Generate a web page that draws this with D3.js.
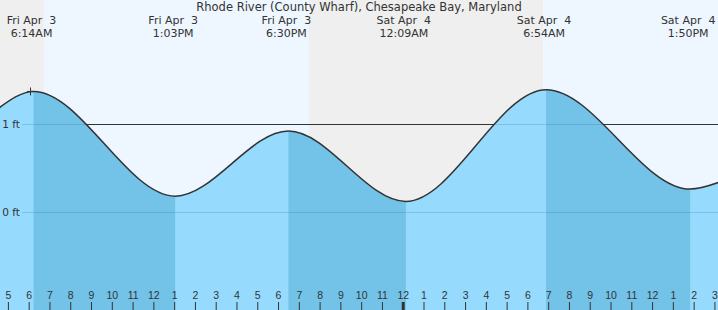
<!DOCTYPE html>
<html>
<head>
<meta charset="utf-8">
<script src="https://cdn.jsdelivr.net/npm/d3@7"></script>
<style>
  body { margin: 0; background: #fff; }
  svg { display: block; font-family: 'DejaVu Sans', sans-serif; }
  text { fill: #333; white-space: pre; }
</style>
</head>
<body>
<svg id="chart"></svg>
<script>
let width = 718
let height = 310

let title = 'Rhode River (County Wharf), Chesapeake Bay, Maryland'

// tide extremes (UTC used as local clock), feet
let tideTimes = [
  Date.UTC(2026, 3, 3, 4, 30),
  Date.UTC(2026, 3, 3, 6, 14),
  Date.UTC(2026, 3, 3, 13, 3),
  Date.UTC(2026, 3, 3, 18, 30),
  Date.UTC(2026, 3, 4, 0, 9),
  Date.UTC(2026, 3, 4, 6, 54),
  Date.UTC(2026, 3, 4, 13, 50),
  Date.UTC(2026, 3, 4, 15, 15)
]
let tideHeights = [1.17, 1.37, 0.18, 0.92, 0.12, 1.39, 0.26, 0.34]
let isExtreme = [false, true, true, true, true, true, true, false]

// daylight: [sunrise, sunset]
let dayStarts = [Date.UTC(2026, 3, 3, 6, 44), Date.UTC(2026, 3, 4, 6, 45)]
let dayEnds = [Date.UTC(2026, 3, 3, 19, 29), Date.UTC(2026, 3, 4, 23, 0)]

let yTicks = [0, 1]
let markerIndex = 1

let viewStart = new Date(Date.UTC(2026, 3, 3, 4, 37, 11))
let viewEnd = new Date(Date.UTC(2026, 3, 4, 15, 10, 19))

let data = tideTimes.map((t, i) => ({ t: new Date(t), v: tideHeights[i], ext: isExtreme[i] }))

let svg = d3.select('#chart').attr('width', width).attr('height', height)

let xScale = d3.scaleUtc().domain([viewStart, viewEnd]).range([0, width])
let yScale = d3.scaleLinear().domain([0, 1]).range([212, 124])

// night background
svg.append('rect').attr('x', 0).attr('y', 0).attr('width', width).attr('height', height).attr('fill', '#efefef')
svg.selectAll('.day')
   .data(dayStarts)
   .enter()
   .append('rect')
   .attr('class', 'day')
   .attr('x', (d) => xScale(d))
   .attr('y', 0)
   .attr('width', (d, i) => xScale(dayEnds[i]) - xScale(d))
   .attr('height', height)
   .attr('fill', '#eef7ff')

// grid lines (behind fill)
svg.selectAll('.grid')
   .data(yTicks)
   .enter()
   .append('line')
   .attr('x1', 22).attr('x2', width)
   .attr('y1', (d) => Math.round(yScale(d)) + 0.5)
   .attr('y2', (d) => Math.round(yScale(d)) + 0.5)
   .attr('stroke', '#333')

let curve = d3.curveMonotoneX

let area = d3.area()
  .x((d) => xScale(d.t))
  .y0(height)
  .y1((d) => yScale(d.v))
  .curve(curve)

let line = d3.line()
  .x((d) => xScale(d.t))
  .y((d) => yScale(d.v))
  .curve(curve)

svg.append('clipPath').attr('id', 'water')
   .append('path').attr('d', area(data))

svg.append('path').attr('d', area(data)).attr('fill', '#96dbfd')

// falling tide darker bands
let ext = data.filter((d) => d.ext)
let falls = []
for (let i = 0; i < ext.length - 1; i++) {
  if (ext[i].v > ext[i + 1].v) falls.push([ext[i].t, ext[i + 1].t])
}
svg.append('g').attr('clip-path', 'url(#water)')
   .selectAll('rect')
   .data(falls)
   .enter()
   .append('rect')
   .attr('x', (d) => xScale(d[0]))
   .attr('width', (d) => xScale(d[1]) - xScale(d[0]))
   .attr('y', 0)
   .attr('height', height)
   .attr('fill', '#73c2e7')

// faint grid through water
svg.append('g').attr('clip-path', 'url(#water)')
   .selectAll('line')
   .data(yTicks)
   .enter()
   .append('line')
   .attr('x1', 22).attr('x2', width)
   .attr('y1', (d) => Math.round(yScale(d)) + 0.5)
   .attr('y2', (d) => Math.round(yScale(d)) + 0.5)
   .attr('stroke', 'rgba(0,80,150,0.18)')

svg.append('path').attr('d', line(data))
   .attr('fill', 'none').attr('stroke', '#333').attr('stroke-width', 1.5)

// marker at the current high
let m = data[markerIndex]
let mx = xScale(m.t) - 3
svg.append('path')
   .attr('d', 'M' + (mx - 3.5) + ',' + yScale(m.v) + 'h7M' + mx + ',' + (yScale(m.v) - 4) + 'v8')
   .attr('stroke', '#333').attr('stroke-width', 1)

// y labels
svg.selectAll('.ylab')
   .data(yTicks)
   .enter()
   .append('text')
   .attr('x', 20)
   .attr('y', (d) => yScale(d) + 4)
   .attr('text-anchor', 'end')
   .style('font-size', '10.5px')
   .text((d) => d + ' ft')

// hour axis
let xAxis = d3.axisTop(xScale)
  .ticks(d3.utcHour.every(1))
  .tickSize(8)
  .tickPadding(3)
  .tickFormat((d) => (d.getUTCHours() % 12 || 12))

let ax = svg.append('g')
   .attr('transform', 'translate(0,' + height + ')')
   .call(xAxis)
ax.select('.domain').remove()
ax.selectAll('text').style('font-size', '10.5px').attr('fill', '#333')
ax.selectAll('.tick line').attr('stroke', '#333')
ax.selectAll('.tick')
  .filter((d) => d.getUTCHours() === 0)
  .select('line')
  .attr('stroke-width', 3)

// title
svg.append('text')
   .attr('x', width / 2)
   .attr('y', 11)
   .attr('text-anchor', 'middle')
   .style('font-size', '11.5px')
   .text(title)

// extreme labels
let dayFmt = d3.utcFormat('%a %b %e')
let timeFmt = d3.utcFormat('%-I:%M%p')
let labs = svg.selectAll('.elab')
   .data(ext)
   .enter()
   .append('text')
   .attr('text-anchor', 'middle')
   .style('font-size', '11px')
labs.append('tspan')
   .attr('x', (d) => xScale(d.t) - 2)
   .attr('y', 24)
   .text((d) => dayFmt(d.t))
labs.append('tspan')
   .attr('x', (d) => xScale(d.t) - 2)
   .attr('y', 37)
   .text((d) => timeFmt(d.t))
</script>
</body>
</html>
